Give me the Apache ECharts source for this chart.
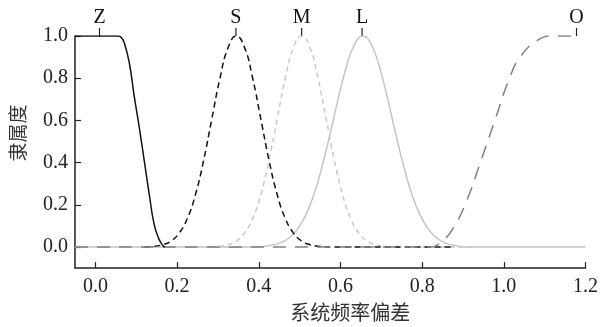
<!DOCTYPE html>
<html>
<head>
<meta charset="utf-8">
<script src="https://cdn.jsdelivr.net/npm/echarts@6/dist/echarts.min.js"></script>
<style>
  html, body { margin: 0; padding: 0; background: #fff; }
  #chart { width: 601px; height: 327px; }
</style>
</head>
<body>
<div id="chart"></div>
<script>
// membership curves as [x, membership]
const curveZ = [[-0.05, 1], [0.055, 1], [0.063, 0.994], [0.071, 0.966], [0.083, 0.872],
  [0.095, 0.715], [0.108, 0.559], [0.12, 0.403], [0.132, 0.247], [0.144, 0.106],
  [0.156, 0.036], [0.166, 0.005], [0.17, 0]]
const curveS = [[0.12, 0], [0.145, 0.004], [0.165, 0.011], [0.185, 0.028], [0.205, 0.066],
  [0.225, 0.135], [0.245, 0.249], [0.265, 0.411], [0.285, 0.607], [0.305, 0.8], [0.325, 0.946],
  [0.345, 1], [0.365, 0.946], [0.385, 0.8], [0.405, 0.607], [0.425, 0.411], [0.445, 0.249],
  [0.465, 0.135], [0.485, 0.066], [0.505, 0.028], [0.525, 0.011], [0.545, 0.004], [0.58, 0],
  [0.88, 0]]
const curveM = [[0.28, 0], [0.305, 0.004], [0.325, 0.011], [0.345, 0.028], [0.365, 0.066],
  [0.385, 0.135], [0.405, 0.249], [0.425, 0.411], [0.445, 0.607], [0.465, 0.8], [0.485, 0.946],
  [0.505, 1], [0.525, 0.946], [0.545, 0.8], [0.565, 0.607], [0.585, 0.411], [0.605, 0.249],
  [0.625, 0.135], [0.645, 0.066], [0.665, 0.028], [0.685, 0.011], [0.705, 0.004], [0.74, 0],
  [0.93, 0]]
const curveL = [[-0.05, 0], [0.4, 0], [0.43, 0.008], [0.455, 0.021], [0.475, 0.044], [0.495, 0.085],
  [0.515, 0.151], [0.535, 0.249], [0.555, 0.381], [0.575, 0.539], [0.595, 0.707], [0.615, 0.857],
  [0.635, 0.962], [0.655, 1], [0.675, 0.962], [0.695, 0.857], [0.715, 0.707], [0.735, 0.539],
  [0.755, 0.381], [0.775, 0.249], [0.795, 0.151], [0.815, 0.085], [0.835, 0.044], [0.855, 0.021],
  [0.875, 0.009], [0.91, 0], [1.2, 0]]
const curveO = [[-0.05, 0], [0.82, 0], [0.85, 0.03], [0.873, 0.08], [0.905, 0.2], [0.946, 0.42],
  [0.978, 0.6], [1.014, 0.8], [1.04, 0.9], [1.083, 0.98], [1.12, 1], [1.178, 1]]

// curve names and where their labels sit on the top
const labelNames = ['Z', 'S', 'M', 'L', 'O']
const labelX = [0.01, 0.344, 0.505, 0.653, 1.178]

const serif = '"Liberation Serif", "Times New Roman", serif'
const cjk = '"Noto Sans CJK SC", sans-serif'

const chart = echarts.init(document.getElementById('chart'))

function lineSeries(data, color, type, width) {
  return {
    type: 'line',
    data: data,
    showSymbol: false,
    smooth: 0.5,
    silent: true,
    lineStyle: { color: color, width: width, type: type }
  }
}

const option = {
  animation: false,
  backgroundColor: '#fff',
  grid: { left: 75, right: 12, top: 36, bottom: 57 },
  xAxis: {
    type: 'value',
    min: -0.05,
    max: 1.2,
    splitNumber: 6,
    name: '系统频率偏差',
    nameLocation: 'middle',
    nameGap: 32,
    nameTextStyle: { fontFamily: cjk, fontSize: 20, color: '#333', padding: [0, 0, 0, 40] },
    axisLine: { onZero: false, lineStyle: { color: '#222', width: 1.5 } },
    axisTick: { inside: true, length: 6, lineStyle: { color: '#222', width: 1.2 } },
    axisLabel: {
      showMinLabel: false,
      margin: 9,
      fontFamily: serif,
      fontSize: 20,
      color: '#222',
      formatter: (v) => v.toFixed(1)
    },
    splitLine: { show: false }
  },
  yAxis: {
    type: 'value',
    min: -0.1,
    max: 1.0,
    splitNumber: 5,
    name: '隶属度',
    nameLocation: 'middle',
    nameRotate: 90,
    nameGap: 48,
    nameTextStyle: { fontFamily: cjk, fontSize: 19, color: '#333', padding: [0, 0, 0, 38] },
    axisLine: { onZero: false, lineStyle: { color: '#222', width: 1.5 } },
    axisTick: { inside: true, length: 6, lineStyle: { color: '#222', width: 1.2 } },
    axisLabel: {
      showMinLabel: false,
      margin: 7,
      fontFamily: serif,
      fontSize: 20,
      color: '#222',
      formatter: (v) => v.toFixed(1)
    },
    splitLine: { show: false }
  },
  series: [
    lineSeries(curveL, '#c4c4c4', 'solid', 1.5),
    lineSeries(curveM, '#c8c8c8', [5, 4], 1.5),
    lineSeries(curveS, '#111', [6, 4], 1.5),
    lineSeries(curveO, '#808080', [13, 9], 1.5),
    lineSeries(curveZ, '#111', 'solid', 1.5),
    {
      type: 'custom',
      silent: true,
      data: labelX.map((x, i) => [x, 1.0, labelNames[i]]),
      renderItem: (params, api) => {
        const p = api.coord([api.value(0), api.value(1)])
        return {
          type: 'group',
          children: [
            {
              type: 'line',
              shape: { x1: p[0], y1: p[1] - 8, x2: p[0], y2: p[1] },
              style: { stroke: '#222', lineWidth: 1.2 }
            },
            {
              type: 'text',
              x: p[0],
              y: p[1] - 18,
              style: {
                text: labelNames[params.dataIndex],
                fontFamily: serif,
                fontSize: 20,
                fill: '#111',
                align: 'center',
                verticalAlign: 'middle'
              }
            }
          ]
        }
      }
    }
  ]
}

chart.setOption(option)
</script>
</body>
</html>
